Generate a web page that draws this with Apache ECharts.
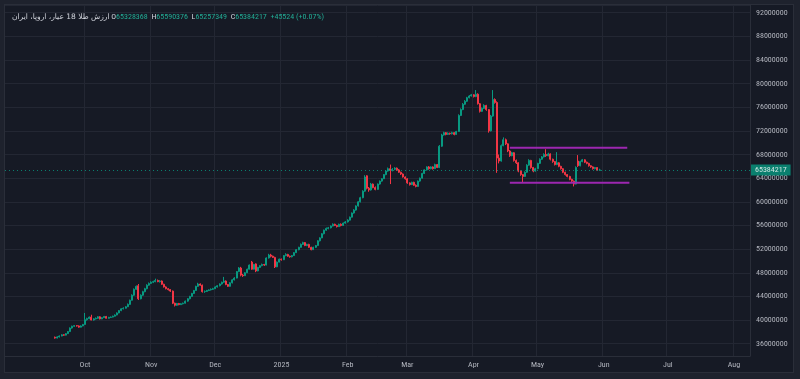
<!DOCTYPE html>
<html><head><meta charset="utf-8">
<script src="https://cdn.jsdelivr.net/npm/echarts@6/dist/echarts.min.js"></script>
<style>
html,body{margin:0;padding:0;background:#1e222d;width:800px;height:379px;overflow:hidden;}
#frame{position:absolute;left:4px;top:4px;width:788px;height:367px;border:1px solid #2a2e39;background:#161a25;}
#c{width:788px;height:367px;}
</style></head><body>
<div id="frame"><div id="c"></div></div>
<script>
// ---- data (price in millions) ----
const symbolTitle = 'ارزش طلا 18 عیار، اروپا، ایران';
const axisStart = '2024-08-25';
const axisEnd = '2025-08-08';
const firstLabelDate = '2024-10-01';
const firstCandleDate = '2024-09-17';
const monthNames = ['Jan','Feb','Mar','Apr','May','Jun','Jul','Aug','Sep','Oct','Nov','Dec'];
const yTicks = { min: 33.92, max: 93.29, step: 4 };
// [open, close, low, high]
const ohlc = [
[37.10,36.95,36.85,37.20],[36.95,37.15,36.90,37.25],[37.15,37.30,37.05,37.40],[37.30,37.50,37.25,37.60],
[37.50,37.45,37.35,37.60],[37.45,37.70,37.40,37.80],[37.70,38.05,37.65,38.15],[38.05,38.65,38.00,38.75],
[38.65,38.95,38.55,39.05],[38.95,39.05,38.85,39.15],[39.05,39.00,38.90,39.15],[39.00,38.80,38.70,39.10],
[38.80,39.00,38.75,39.10],[39.00,39.25,38.95,39.35],[39.25,40.05,39.20,41.20],[40.05,40.25,39.90,40.40],
[40.25,40.50,40.15,40.60],[40.50,40.00,39.95,40.90],[40.00,40.20,39.90,40.30],[40.20,40.30,40.10,40.45],
[40.30,40.55,40.20,40.65],[40.55,40.20,40.10,40.65],[40.20,40.40,40.15,40.50],[40.40,40.60,40.35,40.70],
[40.60,40.30,40.25,40.70],[40.30,40.45,40.25,40.55],[40.45,40.50,40.35,40.60],[40.50,40.65,40.45,40.75],
[40.65,40.85,40.60,40.95],[40.85,41.20,40.80,41.30],[41.20,41.60,41.15,41.70],[41.60,41.90,41.50,42.00],
[41.90,42.00,41.80,42.15],[42.00,42.25,41.95,42.35],[42.25,42.65,42.20,42.80],[42.65,43.35,42.60,43.45],
[43.35,44.20,43.30,44.35],[44.20,45.20,44.10,45.35],[45.20,45.70,45.10,45.85],[45.80,43.60,43.40,46.10],
[43.60,44.20,43.50,44.35],[44.20,44.80,44.10,44.95],[44.80,45.30,44.70,45.45],[45.30,45.90,45.20,46.05],
[45.90,46.20,45.80,46.35],[46.20,46.40,46.10,46.55],[46.40,46.50,46.25,46.65],[46.50,46.70,46.40,47.00],
[46.70,46.50,46.40,46.85],[46.50,46.60,46.35,46.75],[46.60,46.05,45.95,46.70],[46.05,45.60,45.50,46.15],
[45.60,45.30,45.20,45.70],[45.30,45.15,45.00,45.40],[45.15,44.90,44.75,45.25],[44.90,42.85,42.70,45.00],
[42.85,42.50,42.30,42.95],[42.50,42.80,42.40,42.90],[42.80,42.60,42.50,42.90],[42.60,42.75,42.55,42.85],
[42.75,42.85,42.65,42.95],[42.85,43.20,42.80,43.30],[43.20,43.60,43.10,43.70],[43.60,44.00,43.50,44.10],
[44.00,44.50,43.95,44.60],[44.50,45.00,44.40,45.10],[45.00,45.70,44.95,45.80],[45.70,46.10,45.60,46.30],
[46.10,45.90,45.80,46.20],[45.90,44.80,44.65,46.00],[44.80,44.85,44.60,45.00],[44.85,45.00,44.75,45.10],
[45.00,45.10,44.90,45.20],[45.10,45.20,45.00,45.35],[45.20,45.30,45.10,45.45],[45.30,45.60,45.25,45.70],
[45.60,45.80,45.50,45.90],[45.80,46.10,45.70,46.20],[46.10,46.40,46.00,46.50],[46.40,46.60,46.30,47.30],
[46.60,46.00,45.90,46.70],[46.00,45.70,45.60,46.10],[45.70,46.30,45.65,46.40],[46.30,46.80,46.20,46.90],
[46.80,47.10,46.70,47.25],[47.10,48.20,47.05,48.30],[48.20,48.80,48.10,48.95],[48.80,47.60,47.40,49.00],
[47.60,47.50,47.30,47.80],[47.50,48.00,47.45,48.10],[48.00,48.60,47.95,48.70],[48.60,49.30,48.55,49.40],
[49.80,48.60,48.50,50.00],[48.60,49.40,48.55,49.50],[49.50,48.30,48.10,49.60],[48.30,48.90,48.25,49.00],
[48.90,49.20,48.80,49.30],[49.20,49.40,49.10,49.55],[49.40,49.30,49.15,49.50],[49.30,50.50,49.25,50.60],
[50.50,51.00,50.40,51.20],[51.00,50.80,50.60,51.20],[50.80,50.60,50.50,50.90],[50.60,49.00,48.80,50.70],
[49.00,49.80,48.95,49.90],[49.80,50.30,49.75,50.40],[50.30,50.20,50.05,50.40],[50.20,50.90,50.15,51.00],
[50.90,51.10,50.80,51.30],[51.10,50.80,50.70,51.20],[50.80,50.70,50.55,50.90],[50.70,50.90,50.60,51.00],
[50.90,51.40,50.85,51.50],[51.40,51.90,51.35,52.00],[51.90,52.30,51.80,52.40],[52.30,52.80,52.25,52.95],
[52.80,53.10,52.70,53.25],[53.10,52.60,52.50,53.20],[52.60,52.80,52.50,52.90],[52.80,52.30,52.20,52.90],
[52.30,51.90,51.80,52.40],[51.90,52.30,51.85,52.40],[52.30,52.60,52.20,52.70],[52.60,53.40,52.55,53.50],
[53.40,53.90,53.30,54.00],[53.90,54.60,53.85,54.70],[54.60,55.20,54.50,55.30],[55.20,55.50,55.10,55.65],
[55.50,55.60,55.35,55.75],[55.60,55.90,55.50,56.00],[55.90,56.20,55.85,56.35],[56.20,56.00,55.90,56.30],
[56.00,55.80,55.65,56.10],[55.80,56.20,55.75,56.30],[56.20,56.00,55.85,56.35],[56.00,56.40,55.95,56.50],
[56.40,56.60,56.30,56.75],[56.60,56.90,56.50,57.05],[56.90,57.40,56.85,57.50],[57.40,58.10,57.35,58.20],
[58.10,58.60,58.00,58.75],[58.60,59.30,58.50,59.40],[59.30,60.00,59.20,60.10],[60.00,60.70,59.90,60.85],
[60.70,61.80,60.60,61.95],[61.80,64.20,61.70,64.50],[64.40,62.30,62.10,64.50],[62.30,62.00,61.70,62.50],
[62.00,63.00,61.90,63.20],[63.00,62.40,62.30,63.10],[62.40,62.10,61.95,62.60],[62.10,63.00,62.05,63.10],
[63.00,63.50,62.90,63.60],[63.50,63.90,63.40,64.00],[63.90,64.60,63.85,64.70],[64.60,65.20,64.50,65.35],
[65.20,65.60,65.10,65.80],[65.60,65.30,63.00,66.30],[65.30,65.50,65.15,65.70],[65.50,65.70,65.35,65.85],
[65.70,65.40,65.25,65.80],[65.40,65.00,64.90,65.55],[65.00,64.70,64.55,65.10],[64.70,64.20,64.10,64.80],
[64.20,63.90,63.75,64.30],[63.90,63.20,63.05,64.00],[63.20,62.90,62.75,63.30],[62.90,63.30,62.85,63.40],
[63.30,62.80,62.70,63.40],[62.80,62.60,62.45,62.95],[62.60,63.50,62.55,63.60],[63.50,64.00,63.40,64.10],
[64.00,64.80,63.95,64.90],[64.80,65.40,64.70,65.50],[65.40,65.90,65.30,66.00],[65.90,65.60,65.45,66.05],
[65.60,65.90,65.50,66.00],[65.90,65.60,65.45,66.00],[65.60,66.30,65.55,66.45],[66.30,65.80,65.70,66.40],
[65.80,69.40,65.70,69.60],[69.40,71.30,69.30,71.50],[71.30,71.70,71.20,71.85],[71.70,71.40,71.25,71.80],
[71.40,71.60,71.30,71.75],[71.60,71.50,71.35,71.70],[71.50,71.70,71.40,71.85],[71.70,71.40,71.25,71.80],
[71.40,71.90,71.35,72.00],[71.90,74.60,71.85,74.80],[74.60,75.60,74.50,75.80],[75.60,76.50,75.50,76.70],
[76.50,77.00,76.40,77.20],[77.00,77.60,76.90,77.75],[77.60,77.90,77.50,78.05],[77.90,78.10,77.80,78.25],
[78.10,77.80,77.65,78.20],[77.80,78.20,77.70,78.90],[78.20,76.60,76.45,78.35],[76.60,75.30,75.10,76.70],
[75.30,75.80,75.20,75.95],[75.80,76.30,75.70,76.50],[76.30,75.60,75.40,76.40],[75.60,72.00,71.70,75.70],
[72.00,74.50,71.90,74.70],[74.50,77.30,74.40,78.90],[77.30,76.80,76.60,77.50],[76.80,67.40,64.90,77.00],
[67.40,66.90,66.50,68.00],[66.90,69.50,66.80,69.70],[69.50,70.50,69.40,70.90],[70.50,69.80,69.60,70.70],
[69.80,68.60,68.40,69.90],[68.60,67.80,67.60,68.75],[67.80,68.30,67.70,68.45],[68.30,67.00,66.80,68.40],
[67.00,66.60,66.40,67.15],[66.60,65.20,65.00,66.70],[65.20,64.60,64.40,65.30],[64.60,64.30,63.20,64.70],
[64.30,65.00,64.20,65.15],[65.00,66.20,64.90,66.35],[66.20,67.00,66.10,67.20],[67.00,65.80,65.60,67.10],
[65.80,65.20,65.00,65.90],[65.20,65.60,65.10,65.75],[65.60,66.50,65.50,66.60],[66.50,67.20,66.40,67.35],
[67.20,67.60,67.10,67.75],[67.60,68.00,67.50,68.20],[68.00,67.80,67.60,68.90],[67.80,68.10,67.70,68.30],
[68.10,67.20,67.00,68.20],[67.20,66.80,66.60,67.30],[66.80,66.30,66.15,66.90],[66.30,66.60,66.20,68.40],
[66.60,66.00,65.85,66.70],[66.00,65.60,65.45,66.10],[65.60,65.00,64.85,65.70],[65.00,64.60,64.45,65.10],
[64.60,64.30,64.15,64.70],[64.30,63.80,63.65,64.40],[63.80,63.50,63.35,63.90],[63.50,63.00,62.60,63.60],
[63.00,65.80,62.95,66.00],[66.90,66.10,65.90,67.90],[66.10,66.80,66.00,66.95],[66.80,67.10,66.70,67.25],
[67.10,66.70,66.55,67.20],[66.70,66.50,66.35,66.80],[66.50,66.10,65.95,66.60],[66.10,65.90,65.75,66.20],
[65.90,65.60,65.45,66.00],[65.60,65.80,65.50,65.90],[65.80,65.338693,65.25,65.85],
[65.328368,65.384217,65.257349,65.590376]
];
// drawn range (rectangle) levels
const rangeTop = { from: '2025-04-18', to: '2025-06-12', price: 69.15 };
const rangeBottom = { from: '2025-04-18', to: '2025-06-13', price: 63.21 };

// ---- colours ----
const UP = '#089981', DOWN = '#f23645', TXT = '#b2b5be', GRID = '#232733', SEP = '#2a2e39';
const FONT = '"Roboto Condensed","Open Sans Condensed",sans-serif';

function dayList(a, b) {
  const out = []; let t = Date.parse(a + 'T00:00:00Z'); const e = Date.parse(b + 'T00:00:00Z');
  while (t <= e) { out.push(new Date(t).toISOString().slice(0, 10)); t += 86400000; }
  return out;
}
const days = dayList(axisStart, axisEnd);
const startIdx = days.indexOf(firstCandleDate);
const candleData = days.map((d, i) => {
  const k = i - startIdx;
  return (k >= 0 && k < ohlc.length) ? ohlc[k] : '-';
});
const last = ohlc[ohlc.length - 1];
const prevClose = ohlc[ohlc.length - 2][1];
const fmt = v => String(Math.round(v * 1e6));
const chg = Math.round((last[1] - prevClose) * 1e6);
const pct = ((last[1] - prevClose) / prevClose * 100).toFixed(2);
const isMonthStart = (i, v) => v.slice(8) === '01' && v >= firstLabelDate;
const monthLabel = v => { const m = +v.slice(5, 7); return m === 1 ? v.slice(0, 4) : monthNames[m - 1]; };

const chart = echarts.init(document.getElementById('c'), null, { renderer: 'canvas' });
chart.setOption({
  backgroundColor: '#161a25',
  animation: false,
  title: {
    left: 2, top: 3,
    text: '{n|' + symbolTitle + '} {k|O}{v|' + fmt(last[0]) + '}  {k|H}{v|' + fmt(last[3]) + '}  {k|L}{v|' + fmt(last[2]) + '}  {k|C}{v|' + fmt(last[1]) + '}  {v|' + (chg >= 0 ? '+' : '') + chg + ' (' + (chg >= 0 ? '+' : '') + pct + '%)}',
    textStyle: {
      fontFamily: FONT, fontSize: 8, fontWeight: 'normal',
      rich: {
        n: { color: '#d1d4dc', fontSize: 7.5, fontFamily: '"DejaVu Sans",sans-serif' },
        k: { color: '#d1d4dc', fontSize: 8, fontFamily: FONT },
        v: { color: '#22ab94', fontSize: 8, fontFamily: FONT }
      }
    }
  },
  grid: { left: 0, top: 0, right: 43, bottom: 16 },
  xAxis: {
    type: 'category', data: days, boundaryGap: true,
    axisLine: { show: true, lineStyle: { color: SEP } },
    axisTick: { show: false },
    axisLabel: { interval: isMonthStart, formatter: monthLabel, color: TXT, fontFamily: FONT, fontSize: 8, margin: 5 },
    splitLine: { show: true, interval: isMonthStart, lineStyle: { color: GRID, width: 1 } }
  },
  yAxis: {
    type: 'value', position: 'right', scale: true,
    min: yTicks.min, max: yTicks.max, minInterval: yTicks.step, maxInterval: yTicks.step,
    axisLine: { show: true, lineStyle: { color: SEP } },
    axisTick: { show: false },
    axisLabel: { color: TXT, fontFamily: FONT, fontSize: 8, margin: 6, showMinLabel: false, showMaxLabel: false, formatter: v => fmt(v) },
    splitLine: { show: true, lineStyle: { color: GRID, width: 1 } }
  },
  series: [
    {
      type: 'candlestick', data: candleData, barWidth: 1.5,
      itemStyle: { color: UP, color0: DOWN, borderColor: UP, borderColor0: DOWN, borderWidth: 1 },
      markLine: {
        silent: true, symbol: 'none',
        lineStyle: { color: UP, type: [1, 3], width: 1, opacity: 0.8 },
        label: {
          position: 'end', formatter: fmt(last[1]), color: '#ffffff', backgroundColor: UP,
          fontFamily: FONT, fontSize: 8, lineHeight: 9, padding: [1, 4, 1, 4], distance: 1
        },
        data: [{ yAxis: last[1] }]
      }
    },
    {
      type: 'line', data: [[rangeTop.from, rangeTop.price], [rangeTop.to, rangeTop.price]],
      symbol: 'none', lineStyle: { color: '#9c27b0', width: 2 }, silent: true, z: 5
    },
    {
      type: 'line', data: [[rangeBottom.from, rangeBottom.price], [rangeBottom.to, rangeBottom.price]],
      symbol: 'none', lineStyle: { color: '#9c27b0', width: 2 }, silent: true, z: 5
    }
  ]
});
</script>
</body></html>
